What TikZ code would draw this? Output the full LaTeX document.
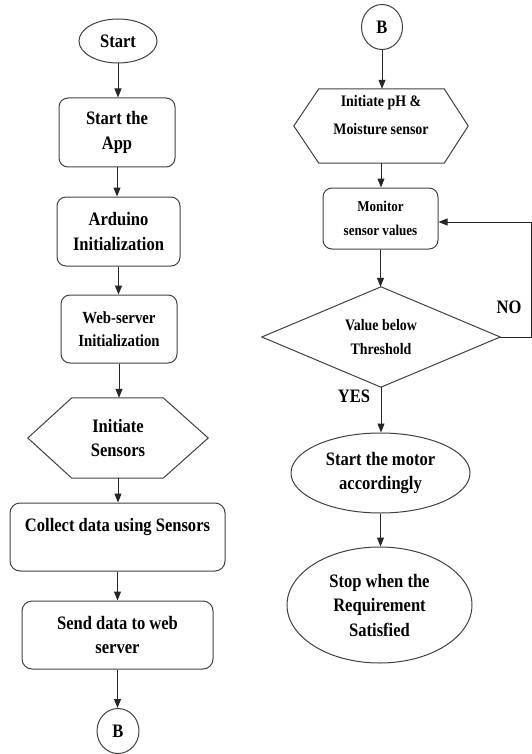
\documentclass[tikz,border=0pt]{standalone}
\usepackage{fontspec}
\setmainfont{Liberation Serif}[FakeStretch=0.87]
\usetikzlibrary{shapes.geometric,arrows.meta}
\begin{document}
\begin{tikzpicture}[x=1pt,y=-1pt,
  every node/.style={font=\bfseries\fontsize{19}{24.5}\selectfont, align=center, inner sep=0pt, text=black},
  box/.style={draw=black!75, line width=1pt, rounded corners=9pt, rectangle},
  oval/.style={draw=black!75, line width=1pt, ellipse},
  frame/.style={rectangle},
  arr/.style={-{Triangle[length=9pt,width=7pt]}, line width=1pt, draw=black!85, line join=miter},
  shp/.style={draw=black!75, line width=1pt, line join=miter}]
\useasboundingbox (0,0) rectangle (532,754);

% left column
\node[oval, minimum width=78pt, minimum height=44pt] (start) at (118,41) {Start};
\node[box, minimum width=116pt, minimum height=69pt] (app) at (117,132.5) {Start the\\App};
\node[box, minimum width=123pt, minimum height=69pt] (ard) at (118.5,231.5) {Arduino\\Initialization};
\node[box, minimum width=116pt, minimum height=68pt, font=\bfseries\fontsize{17}{23.5}\selectfont] (web) at (119,329) {Web-server\\Initialization};
\node[frame, minimum width=180pt, minimum height=80pt] (ins) at (118,438) {Initiate\\Sensors};
\draw[shp] (ins.west) -- ([xshift=44pt]ins.north west) -- ([xshift=-45pt]ins.north east) -- (ins.east) -- ([xshift=-45pt]ins.south east) -- ([xshift=44pt]ins.south west) -- cycle;
\node[box, rounded corners=10pt, minimum width=215pt, minimum height=68pt] (col) at (117.5,537) {Collect data using Sensors\\\mbox{}};
\node[box, rounded corners=10pt, minimum width=191pt, minimum height=68pt] (send) at (117.5,635) {Send data to web\\server};
\node[oval, minimum width=42pt, minimum height=45pt] (b1) at (118,731) {B};

\draw[arr] (start.south) -- (start.south |- app.north);
\draw[arr] (app.south) -- (app.south |- ard.north);
\draw[arr] (ard.south) -- (ard.south |- web.north);
\draw[arr] (web.south) -- (web.south |- ins.north);
\draw[arr] (ins.south) -- (ins.south |- col.north);
\draw[arr] (col.south) -- (col.south |- send.north);
\draw[arr] (send.south) -- (send.south |- b1.north);

% right column
\node[oval, minimum width=41pt, minimum height=45pt] (b2) at (382,27) {B};
\node[frame, minimum width=174pt, minimum height=74pt] (ph) at (381,126) {};
\draw[shp] (ph.west) -- ([xshift=25pt]ph.north west) -- ([xshift=-24pt]ph.north east) -- (ph.east) -- ([xshift=-24pt]ph.south east) -- ([xshift=25pt]ph.south west) -- cycle;
\node[font=\bfseries\fontsize{16}{28}\selectfont] (phtxt) at (381,115) {Initiate pH \&\\Moisture sensor};
\node[box, minimum width=115pt, minimum height=61pt, font=\bfseries\fontsize{15}{24}\selectfont] (mon) at (380.5,218.5) {Monitor\\sensor values};
\node[frame, minimum width=238pt, minimum height=100pt, font=\bfseries\fontsize{16}{24}\selectfont] (dia) at (381,337) {Value below\\Threshold};
\draw[shp] (dia.west) -- (dia.north) -- (dia.east) -- (dia.south) -- cycle;
\node[oval, minimum width=179pt, minimum height=80pt] (mot) at (380.5,473) {Start the motor\\accordingly};
\node[oval, minimum width=185pt, minimum height=116pt] (stop) at (379.5,605) {Stop when the\\Requirement\\Satisfied};

\node (no) at (509,307) {NO};
\node (yes) at (354,396) {YES};

\draw[arr] (b2.south) -- (b2.south |- ph.north);
\draw[arr] (ph.south) -- (ph.south |- mon.north);
\draw[arr] (mon.south) -- (mon.south |- dia.north);
\draw[arr] (dia.south) -- (dia.south |- mot.north);
\draw[arr] (mot.south) -- (mot.south |- stop.north);

\coordinate (c1) at (531.5,337);
\coordinate (c2) at (531.5,222);
\draw[arr] (dia.east) -- (c1) -- (c2) -- (c2 -| mon.east);
\end{tikzpicture}
\end{document}
